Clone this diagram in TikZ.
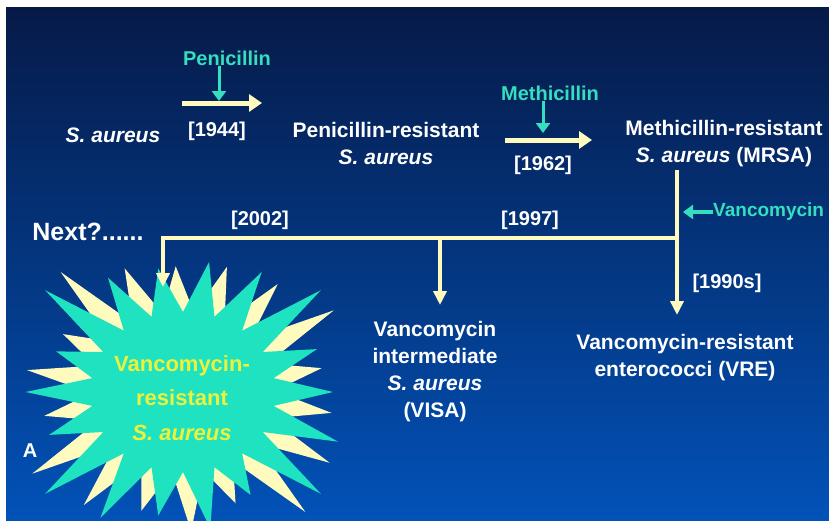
\documentclass[tikz,border=0pt]{standalone}
\usepackage{fontspec}
\setmainfont{Liberation Sans}
\usepackage{tikz}
\usetikzlibrary{arrows.meta, positioning}

\definecolor{bgtop}{RGB}{6,26,72}
\definecolor{bgmid}{RGB}{6,52,140}
\definecolor{bgbot}{RGB}{2,82,184}
\definecolor{drugcol}{RGB}{52,222,190}
\definecolor{paleyel}{RGB}{255,250,190}
\definecolor{startea}{RGB}{30,226,192}
\definecolor{staryel}{RGB}{236,242,60}

\begin{document}
\begin{tikzpicture}[
    x=1pt, y=-1pt,
    bug/.style={text=white, font=\bfseries\fontsize{21}{27}\selectfont, align=center, inner sep=0pt},
    year/.style={text=white, font=\bfseries\fontsize{20}{24}\selectfont, inner sep=0pt},
    drug/.style={text=drugcol, font=\bfseries\fontsize{20}{24}\selectfont, inner sep=0pt},
    yarrow/.style={paleyel, line width=5pt, -{Triangle[length=13pt, width=17pt]}},
    carrow/.style={drugcol, line width=3pt, -{Triangle[length=10pt, width=14pt]}},
    tree/.style={paleyel, line width=3.5pt},
    treearrow/.style={tree, -{Triangle[length=14pt, width=13pt]}},
    spikey/.style={fill=paleyel},
    spiket/.style={fill=startea}
]
    \useasboundingbox (0,0) rectangle (829,520);
    \shade[top color=bgtop, middle color=bgmid, bottom color=bgbot] (6,7) rectangle (829,520);

    % starburst
    \begin{scope}[shift={(183,392)}]
        \fill[spikey, rotate=-8] (0:150) \foreach \a/\f in {20/1.1, 40/1.2, 60/0.9, 80/1.05, 100/0.95, 120/1.1, 140/1.2, 160/0.95, 180/1.05, 200/0.9, 220/1.2, 240/1.0, 260/0.95, 280/1.0, 300/1.05, 320/1.2, 340/0.95, 360/1.0} { -- ({\a-10}:92 and 80) -- (\a:{150*\f} and {132*\f}) } -- cycle;
        \fill[spiket] (0:150) \foreach \a/\f in {20/1.1, 40/1.2, 60/0.9, 80/1.05, 100/0.95, 120/1.1, 140/1.2, 160/0.95, 180/1.05, 200/0.9, 220/1.2, 240/1.0, 260/0.95, 280/1.0, 300/1.05, 320/1.2, 340/0.95, 360/1.0} { -- ({\a-10}:92 and 80) -- (\a:{150*\f} and {132*\f}) } -- cycle;
    \end{scope}
    \node (vrsa) [bug, text=staryel, font=\bfseries\fontsize{22}{34.5}\selectfont] at (182,398) {Vancomycin-\\resistant\\\textit{S. aureus}};

    % first row
    \node (sa) [bug] at (113,135) {\textit{S. aureus}};
    \node (y1944) [year] at (217,131) {[1944]};
    \node (pr) [bug] at (386,143) {Penicillin-resistant\\\textit{S. aureus}};
    \node (mrsa) [bug] at (724,144) {Methicillin-resistant\\\textit{S. aureus} (MRSA)};
    \node (y1962) [year] at (543,165) {[1962]};

    \node (pen) [drug] at (227,58) {Penicillin};
    \node (meth) [drug] at (550,93) {Methicillin};

    \coordinate (p1) at (182,103);
    \coordinate (p2) at (262,103);
    \coordinate (penhit) at (219,101);
    \coordinate (m1) at (505,140);
    \coordinate (m2) at (592,140);
    \coordinate (methit) at (543,133);

    \draw [yarrow] (p1) -- (p2);
    \draw [yarrow] (m1) -- (m2);
    \draw [carrow] (pen.south -| penhit) -- (penhit);
    \draw [carrow] (meth.south -| methit) -- (methit);

    % vancomycin tree
    \coordinate (t0) at (677,170);
    \coordinate (tj) at (677,238);
    \coordinate (tv) at (677,315);
    \coordinate (tm) at (440,238);
    \coordinate (tma) at (440,305);
    \coordinate (tl) at (163,238);
    \coordinate (tla) at (163,287);

    \draw [treearrow] (t0) -- (tv);
    \draw [treearrow] (tj) -- (tl) -- (tla);
    \draw [treearrow] (tm) -- (tma);

    \node (van) [drug, font=\bfseries\fontsize{19}{24}\selectfont, anchor=west] at (713,212) {Vancomycin};
    \coordinate (vanhit) at (683,212);
    \draw [carrow, line width=3.5pt] (van.west) -- (vanhit);

    \node (y2002) [year] at (260,220) {[2002]};
    \node (y1997) [year] at (530,220) {[1997]};
    \node (y1990) [year] at (727,283) {[1990s]};
    \node (next) [year, font=\bfseries\fontsize{25}{29}\selectfont] at (88,232) {Next?......};

    \node (visa) [bug] at (435,372) {Vancomycin\\intermediate\\\textit{S. aureus}\\(VISA)};
    \node (vre) [bug] at (685,358) {Vancomycin-resistant\\enterococci (VRE)};

    \node (panel) [year] at (30,451) {A};
\end{tikzpicture}
\end{document}
